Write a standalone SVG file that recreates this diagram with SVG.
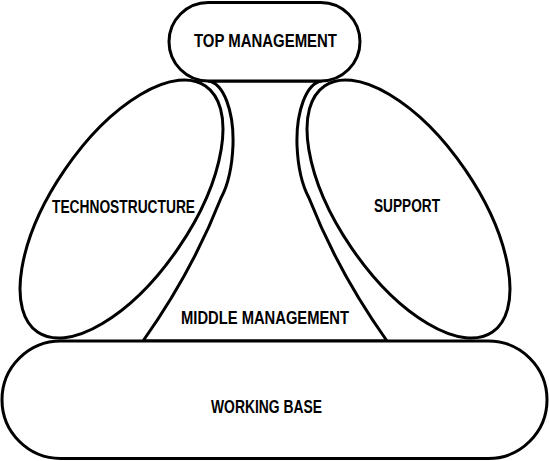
<svg xmlns="http://www.w3.org/2000/svg" width="549" height="461" viewBox="0 0 549 461">
<style>
.s{fill:#fff;stroke:#000;stroke-width:3}
.t{font-family:"Liberation Sans",Arial,sans-serif;font-weight:bold;font-size:18px;fill:#000;text-anchor:middle}
</style>
<rect width="549" height="461" fill="#fff"/>
<g id="middle-management">
<path class="s" d="M 208 81 C 224 83, 234 112, 233 145 C 232 170, 228 185, 221 198 Q 192 272 143 341 L 387 341 Q 338 272 309 198 C 302 185, 298 170, 297 145 C 296 112, 306 83, 322 81 Z"/>
<text class="t" x="265" y="323.5" font-size="16" textLength="168" lengthAdjust="spacingAndGlyphs">MIDDLE MANAGEMENT</text>
</g>
<g id="technostructure">
<ellipse class="s" cx="121.5" cy="209" rx="149" ry="69" transform="rotate(-55.7 121.5 209)"/>
<text class="t" x="123.5" y="213" textLength="143" lengthAdjust="spacingAndGlyphs">TECHNOSTRUCTURE</text>
</g>
<g id="support">
<ellipse class="s" cx="408.5" cy="209" rx="149" ry="69" transform="rotate(55.7 408.5 209)"/>
<text class="t" x="407" y="212" textLength="66" lengthAdjust="spacingAndGlyphs">SUPPORT</text>
</g>
<g id="top-management">
<rect class="s" x="169" y="2.5" width="191" height="78.5" rx="39.25"/>
<text class="t" x="265.5" y="46.5" font-size="17" textLength="143" lengthAdjust="spacingAndGlyphs">TOP MANAGEMENT</text>
</g>
<g id="working-base">
<rect class="s" x="2" y="341" width="545" height="117.5" rx="58.75"/>
<text class="t" x="266.5" y="413" textLength="111" lengthAdjust="spacingAndGlyphs">WORKING BASE</text>
</g>
<g id="connectors"></g>
</svg>
